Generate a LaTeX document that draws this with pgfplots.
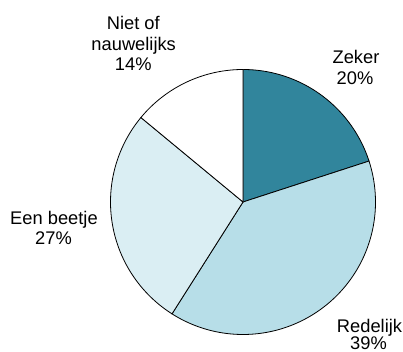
\documentclass[border=0pt]{standalone}
\usepackage{pgfplots}
\usepackage{pgfplotstable}
\pgfplotsset{compat=1.18}
\usepackage{fontspec}
\setmainfont{Liberation Sans}
\definecolor{cZeker}{HTML}{31859C}
\definecolor{cRedelijk}{HTML}{B7DEE8}
\definecolor{cBeetje}{HTML}{DAEEF3}
\definecolor{cNiet}{HTML}{FFFFFF}
\pgfplotstableread{
label pct
Zeker 20
Redelijk 39
Beetje 27
Niet 14
}\piedata
\pgfplotstablegetelem{0}{pct}\of\piedata \let\pA\pgfplotsretval
\pgfplotstablegetelem{1}{pct}\of\piedata \let\pB\pgfplotsretval
\pgfplotstablegetelem{2}{pct}\of\piedata \let\pC\pgfplotsretval
\pgfplotstablegetelem{3}{pct}\of\piedata \let\pD\pgfplotsretval
\pgfmathsetmacro\aO{90}
\pgfmathsetmacro\aA{\aO-3.6*\pA}
\pgfmathsetmacro\aB{\aA-3.6*\pB}
\pgfmathsetmacro\aC{\aB-3.6*\pC}
\pgfmathsetmacro\aD{\aC-3.6*\pD}
\def\cx{243}
\def\cy{-202}
\def\rr{132.5}
\begin{document}
\begin{tikzpicture}
\begin{axis}[
  scale only axis, width=403pt, height=352pt,
  xmin=0, xmax=403, ymin=-352, ymax=0,
  hide axis, clip=false,
  every axis plot/.append style={draw=black, line width=0.8pt, mark=none, samples=90, smooth},
]
\addplot[fill=cZeker, domain=\aA:\aO] ({\cx+\rr*cos(x)},{\cy+\rr*sin(x)}) -- (\cx,\cy) -- cycle;
\addplot[fill=cRedelijk, domain=\aB:\aA] ({\cx+\rr*cos(x)},{\cy+\rr*sin(x)}) -- (\cx,\cy) -- cycle;
\addplot[fill=cBeetje, domain=\aC:\aB] ({\cx+\rr*cos(x)},{\cy+\rr*sin(x)}) -- (\cx,\cy) -- cycle;
\addplot[fill=cNiet, domain=\aD:\aC] ({\cx+\rr*cos(x)},{\cy+\rr*sin(x)}) -- (\cx,\cy) -- cycle;
\coordinate (LL) at (0,-352);
\coordinate (UR) at (403,0);
\begin{scope}[every node/.style={anchor=base, inner sep=0pt, font=\fontsize{18.3}{21}\selectfont, text=black}]
\node at (356,-63.3) {Zeker};
\node at (355,-84.3) {20\%};
\node at (369.5,-332.5) {Redelijk};
\node at (368.5,-350) {39\%};
\node at (54,-224.3) {Een beetje};
\node at (53.5,-245) {27\%};
\node at (133.3,-30) {Niet of};
\node at (133.7,-50.5) {nauwelijks};
\node at (133.3,-70.7) {14\%};
\end{scope}
\end{axis}
\pgfresetboundingbox
\useasboundingbox (LL) rectangle (UR);
\end{tikzpicture}
\end{document}
